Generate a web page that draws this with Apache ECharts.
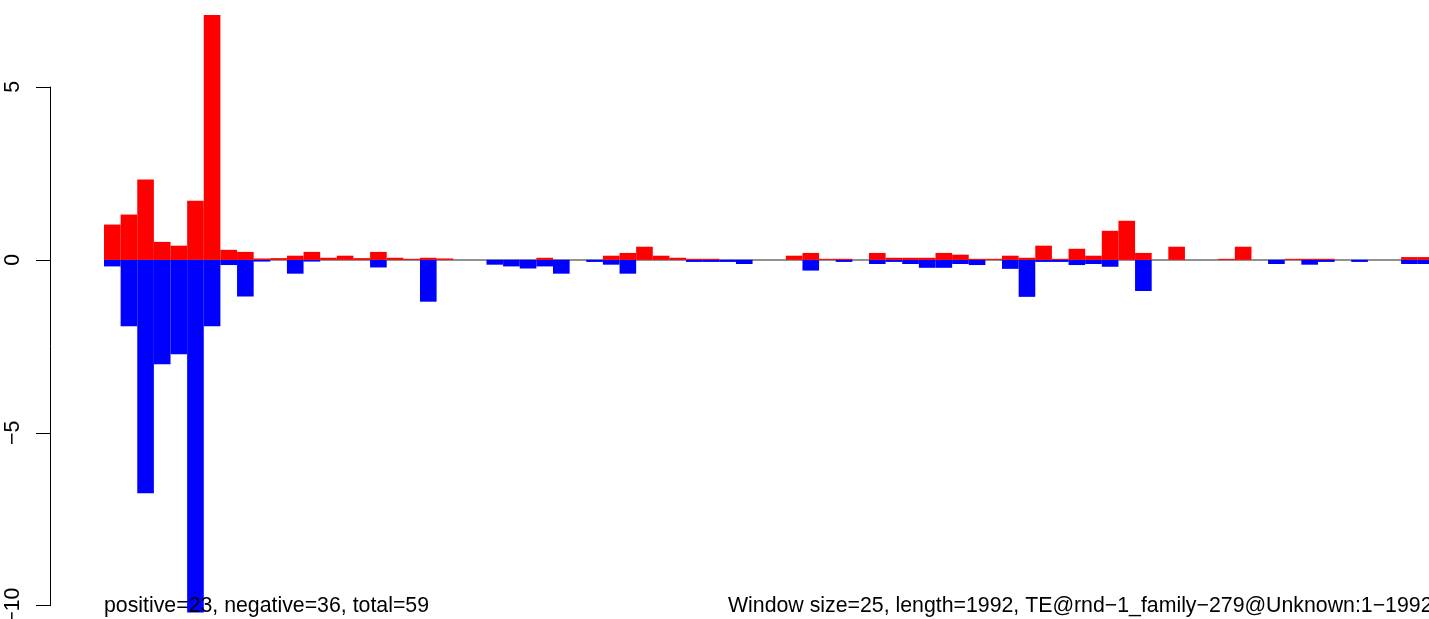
<!DOCTYPE html>
<html><head><meta charset="utf-8">
<script src="https://cdn.jsdelivr.net/npm/echarts@6/dist/echarts.min.js"></script>
<style>html,body{margin:0;padding:0;background:#fff;overflow:hidden}#c{width:1429px;height:619px}</style>
</head><body><div id="c"></div>
<script>
// window start positions (window size 25)
const windowStarts = [1,26,51,76,101,126,151,176,201,226,251,276,301,326,351,376,401,426,451,476,
  501,526,551,576,601,626,651,676,701,726,751,776,801,826,851,876,901,926,951,976,
  1001,1026,1051,1076,1101,1126,1151,1176,1201,1226,1251,1276,1301,1326,1351,1376,1401,1426,1451,1476,
  1501,1526,1551,1576,1601,1626,1651,1676,1701,1726,1751,1776,1801,1826,1851,1876,1901,1926,1951,1976];
const positiveValues = [1.02,1.31,2.32,0.52,0.41,1.71,7.08,0.29,0.23,0.04,
  0.05,0.12,0.23,0.06,0.12,0.05,0.23,0.06,0.03,0.06,
  0.04,0,0,0,0,0,0.06,0,0,0,
  0.12,0.2,0.38,0.12,0.06,0.03,0.03,0,0,0,
  0,0.12,0.2,0.03,0.03,0,0.2,0.06,0.06,0.06,
  0.2,0.15,0.03,0.03,0.12,0.06,0.41,0.03,0.32,0.12,
  0.84,1.13,0.2,0,0.38,0,0,0.03,0.38,0,
  0,0.03,0.03,0.03,0,0,0,0,0.08,0.08];
const negativeValues = [-0.19,-1.92,-6.75,-3.02,-2.73,-10.2,-1.92,-0.15,-1.06,-0.05,
  0,-0.40,-0.05,0,0,0,-0.22,0,0,-1.21,
  0,0,0,-0.14,-0.19,-0.25,-0.19,-0.40,0,-0.06,
  -0.14,-0.40,0,0,0,-0.06,-0.06,-0.06,-0.12,0,
  0,0,-0.31,0,-0.06,0,-0.12,-0.06,-0.12,-0.23,
  -0.23,-0.12,-0.15,0,-0.26,-1.07,-0.06,-0.06,-0.15,-0.12,
  -0.2,0,-0.9,0,0,0,0,0,0,0,
  -0.12,0,-0.14,-0.06,0,-0.06,0,0,-0.12,-0.12];
const yTickMin = -10, yTickMax = 5, yTickStep = 5;
const leftText = 'positive=23, negative=36, total=59';
const rightText = 'Window size=25, length=1992, TE@rnd\u22121_family\u2212279@Unknown:1\u22121992';

const yMin = -10.2, yMax = 7.08;
const plotLeft = 104, plotTop = 15, plotHeight = 597.6, plotWidth = 1330.4;
const pxPerUnit = plotHeight / (yMax - yMin);
const axisTop = plotTop + (yMax - yTickMax) * pxPerUnit;
const axisHeight = (yTickMax - yTickMin) * pxPerUnit;
const font = '"Liberation Sans", Arial, Helvetica, sans-serif';
const txt = {fontFamily: font, fontSize: 21.3, fontWeight: 'normal', color: '#000'};

const chart = echarts.init(document.getElementById('c'), null, {renderer: 'canvas'});
chart.setOption({
  animation: false,
  backgroundColor: '#fff',
  title: [
    {text: leftText, left: 104, top: 596, textStyle: txt, padding: 0, z: 10},
    {text: rightText, left: 728, top: 596, textStyle: txt, padding: 0, z: 10}
  ],
  grid: [
    {left: plotLeft, top: plotTop, width: plotWidth, height: plotHeight, containLabel: false, outerBoundsMode: 'none'},
    {left: plotLeft, top: axisTop, width: plotWidth, height: axisHeight, containLabel: false, outerBoundsMode: 'none'}
  ],
  xAxis: [
    {type: 'category', data: windowStarts, gridIndex: 0, show: false, boundaryGap: true},
    {type: 'category', data: windowStarts, gridIndex: 1, show: false}
  ],
  yAxis: [
    {type: 'value', gridIndex: 0, min: yMin, max: yMax, show: false, splitLine: {show: false}},
    {type: 'value', gridIndex: 1, min: yTickMin, max: yTickMax, interval: yTickStep, position: 'left', offset: plotLeft - 50,
     axisLine: {show: true, lineStyle: {color: '#000', width: 1}},
     axisTick: {show: true, length: 14, lineStyle: {color: '#000', width: 1}},
     splitLine: {show: false},
     axisLabel: {show: true, rotate: 90, margin: 26, color: '#000', fontFamily: font, fontSize: 21.3,
       hideOverlap: false, showMinLabel: true, showMaxLabel: true,
       formatter: v => v < 0 ? '\u2212' + Math.abs(v) : String(v)}}
  ],
  series: [
    {type: 'bar', name: 'negative', data: negativeValues, xAxisIndex: 0, yAxisIndex: 0,
     barWidth: '100%', barGap: '-100%', itemStyle: {color: '#0000ff'}, z: 2,
     markLine: {silent: true, symbol: 'none', label: {show: false}, lineStyle: {color: '#6e6e6e', width: 1.5, type: 'solid'},
       data: [{yAxis: 0}], z: 1}},
    {type: 'bar', name: 'positive', data: positiveValues, xAxisIndex: 0, yAxisIndex: 0,
     barWidth: '100%', barGap: '-100%', itemStyle: {color: '#ff0000'}, z: 3}
  ]
});
</script>
</body></html>
